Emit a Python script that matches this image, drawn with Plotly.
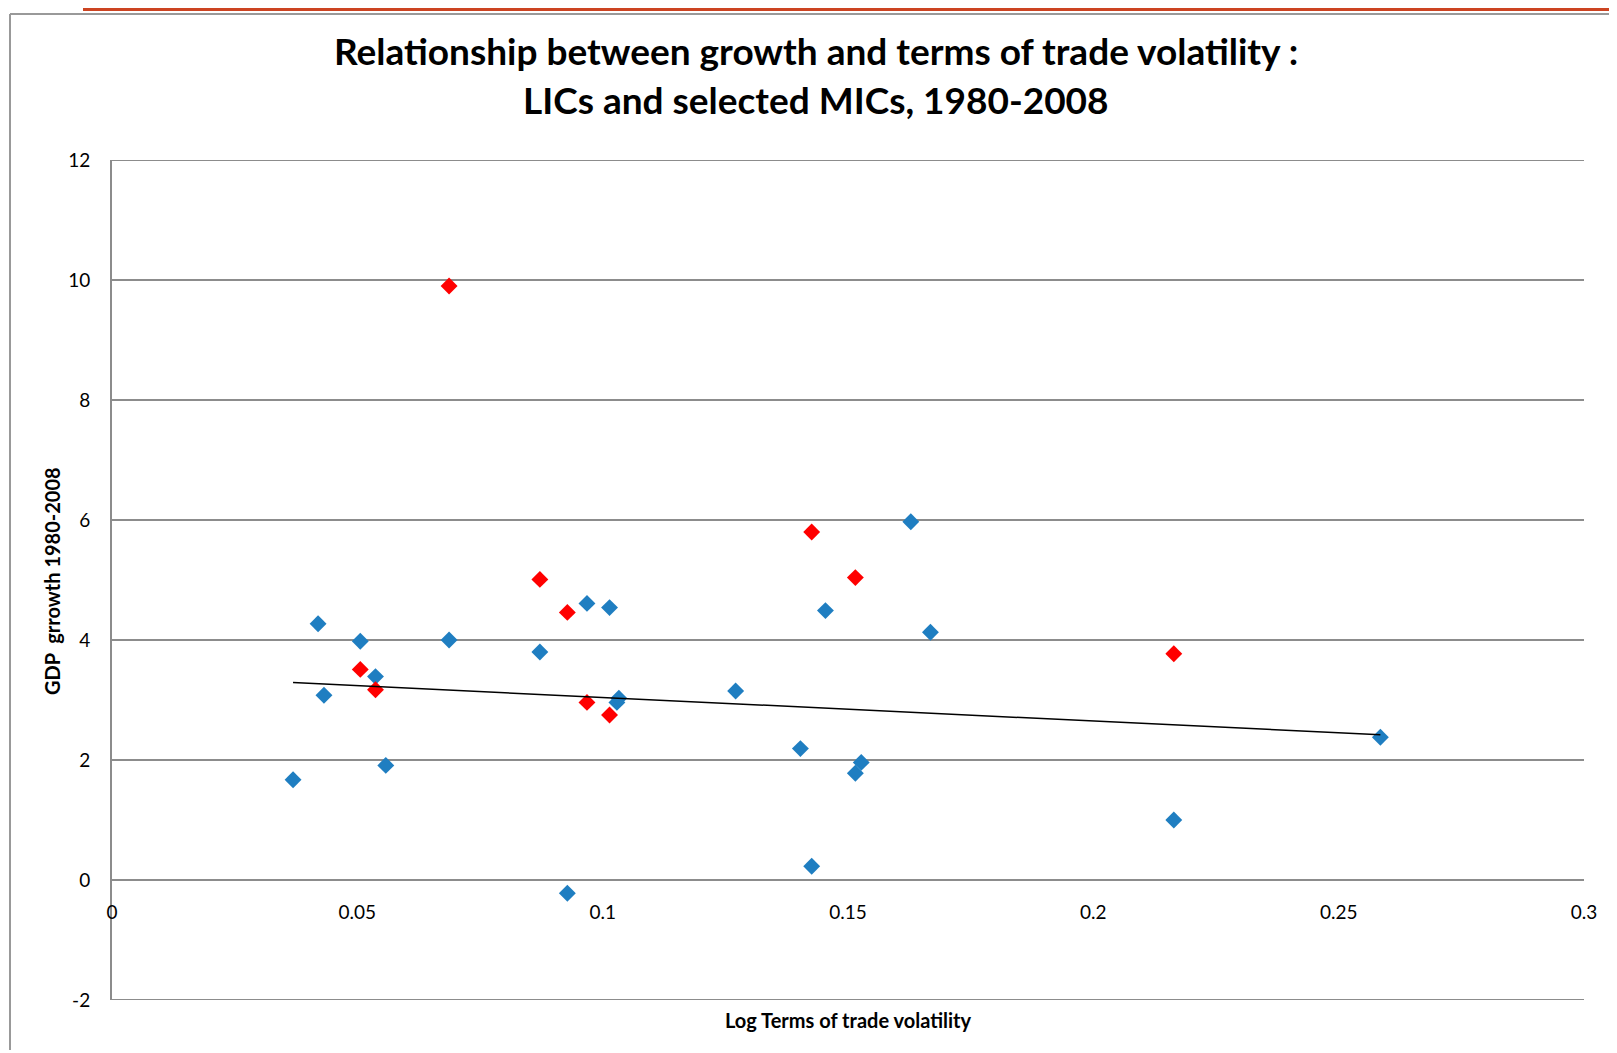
import plotly.graph_objects as go

# values
BLUE_X = [0.0369, 0.0420, 0.0432, 0.0506, 0.0537, 0.0558, 0.0687, 0.0872, 0.0928, 0.0968, 0.1014, 0.1029,
          0.1033, 0.1271, 0.1403, 0.1426, 0.1454, 0.1515, 0.1527, 0.1628, 0.1668, 0.2164, 0.2585]
BLUE_Y = [1.67, 4.27, 3.08, 3.98, 3.39, 1.91, 4.00, 3.80, -0.22, 4.61, 4.54, 2.96,
          3.03, 3.15, 2.19, 0.23, 4.49, 1.78, 1.96, 5.97, 4.13, 1.00, 2.38]

RED_X = [0.0506, 0.0537, 0.0687, 0.0872, 0.0928, 0.0968, 0.1014, 0.1426, 0.1515, 0.2164]
RED_Y = [3.51, 3.17, 9.90, 5.01, 4.46, 2.96, 2.75, 5.80, 5.04, 3.77]

TREND_X = [0.0369, 0.2585]
TREND_Y = [3.29, 2.42]

X_TICKS = [0, 0.05, 0.1, 0.15, 0.2, 0.25, 0.3]
X_LABELS = ["0", "0.05", "0.1", "0.15", "0.2", "0.25", "0.3"]
Y_TICKS = [-2, 0, 2, 4, 6, 8, 10, 12]
Y_LABELS = ["-2", "0", "2", "4", "6", "8", "10", "12"]

TITLE_1 = "Relationship between growth and terms of trade volatility :"
TITLE_2 = "LICs and selected MICs, 1980-2008"
X_TITLE = "Log Terms of trade volatility"
Y_TITLE = "GDP  grrowth 1980-2008"

OFF = 8  # browser body margin
W, H = 1617 - OFF, 1053 - OFF
L, T = 112 - OFF, 160 - OFF
R, B = W - (1584 - OFF), H - (1000 - OFF)
PW, PH = W - L - R, H - T - B
GRID = "#8c8c8c"
FONT = "Lato, sans-serif"


# page pixel -> paper coordinates
def px_x(p):
    return (p - OFF - L) / PW


def px_y(p):
    return (H - B - (p - OFF)) / PH


fig = go.Figure()
fig.add_trace(go.Scatter(
    x=BLUE_X, y=BLUE_Y, mode="markers",
    marker=dict(symbol="diamond", size=13, color="#1F7EC1"),
    showlegend=False,
))
fig.add_trace(go.Scatter(
    x=RED_X, y=RED_Y, mode="markers",
    marker=dict(symbol="diamond", size=13, color="#FF0000"),
    showlegend=False,
))
fig.add_trace(go.Scatter(
    x=TREND_X, y=TREND_Y, mode="lines",
    line=dict(color="black", width=1.5),
    showlegend=False,
))

fig.update_layout(
    width=W, height=H,
    margin=dict(l=L, r=R, t=T, b=B),
    paper_bgcolor="white",
    plot_bgcolor="white",
    font=dict(family=FONT, size=19, color="black"),
)
fig.update_xaxes(
    range=[0, 0.3],
    tickvals=X_TICKS, ticktext=X_LABELS,
    showgrid=False, zeroline=False, showline=False,
    anchor="free", position=px_y(880),
    ticks="", ticklabelstandoff=19,
)
fig.update_yaxes(
    range=[Y_TICKS[0], Y_TICKS[-1]],
    tickvals=Y_TICKS, ticktext=Y_LABELS,
    showgrid=True, gridcolor=GRID, gridwidth=2,
    zeroline=False,
    showline=True, linecolor=GRID, linewidth=2,
    ticks="", ticklabelstandoff=16,
)

# edge gridlines that plotly leaves out
for yv in (Y_TICKS[0], Y_TICKS[-1]):
    fig.add_shape(type="line", xref="paper", yref="y", x0=0, x1=1, y0=yv, y1=yv,
                  line=dict(color=GRID, width=2), layer="below")

annots = [
    (TITLE_1, 816, 50, 37, 0),
    (TITLE_2, 816, 99, 37, 0),
    (X_TITLE, 848, 1020, 20, 0),
    (Y_TITLE, 52, 581, 20, -90),
]
for text, x, y, size, angle in annots:
    fig.add_annotation(
        text="<b>%s</b>" % text, xref="paper", yref="paper",
        x=px_x(x), y=px_y(y), xanchor="center", yanchor="middle",
        showarrow=False, textangle=angle, font=dict(size=size, family=FONT),
    )

# page frame and top strip
fig.add_shape(type="rect", xref="paper", yref="paper",
              x0=px_x(83), x1=px_x(1617), y0=px_y(OFF), y1=px_y(OFF + 3),
              fillcolor="#CC4422", line_width=0, layer="above")
fig.add_shape(type="line", xref="paper", yref="paper",
              x0=px_x(10), x1=px_x(1617), y0=px_y(14), y1=px_y(14),
              line=dict(color="#999999", width=2))
fig.add_shape(type="line", xref="paper", yref="paper",
              x0=px_x(10), x1=px_x(10), y0=px_y(14), y1=px_y(1050),
              line=dict(color="#999999", width=2))

fig.write_html("out.html")
